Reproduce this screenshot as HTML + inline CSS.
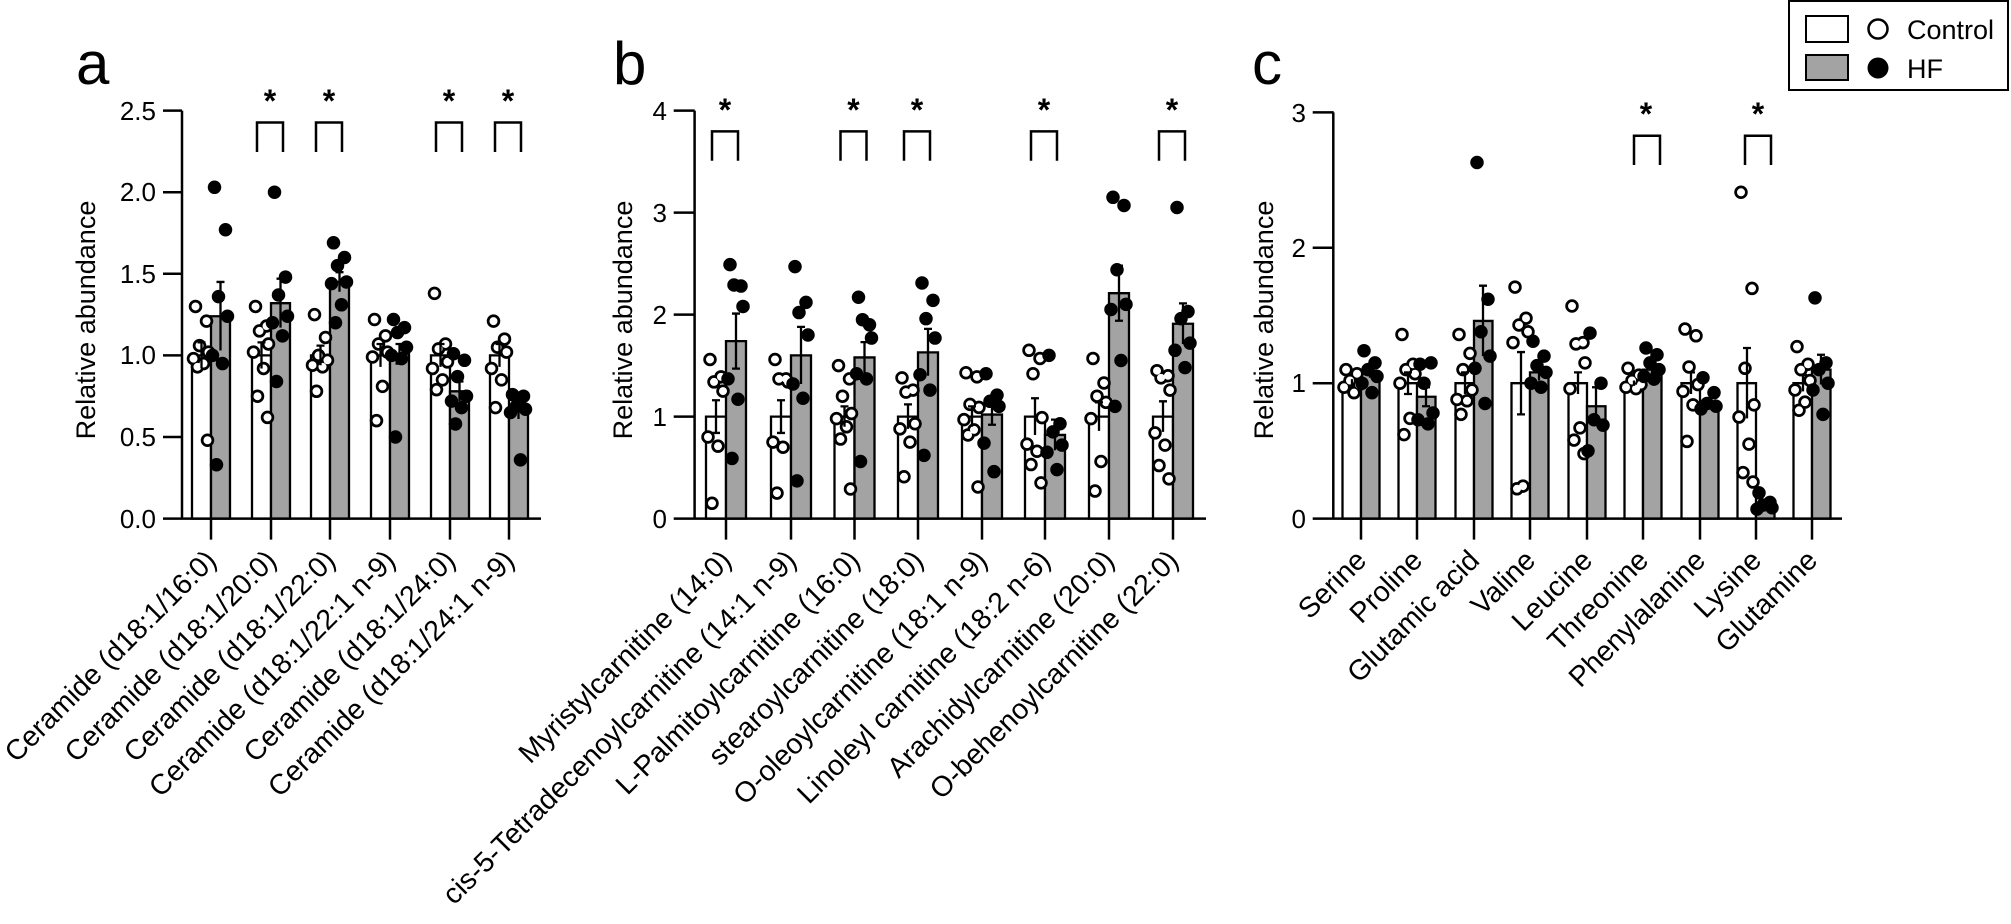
<!DOCTYPE html>
<html><head><meta charset="utf-8"><style>
html,body{margin:0;padding:0;background:#fff;}
svg{display:block;font-family:"Liberation Sans",Arial,sans-serif;}
.d{vector-effect:non-scaling-stroke;stroke-linecap:round;fill:none;}
.b{vector-effect:non-scaling-stroke;stroke:#000;stroke-width:2.3;}
.e{vector-effect:non-scaling-stroke;stroke:#000;stroke-width:2.3;fill:none;}
.tl{font-size:28.5px;}
.yt{font-size:26px;text-anchor:end;}
</style></head><body>
<svg width="2011" height="924" viewBox="0 0 2011 924">
<defs>
<path id="ac" class="d" d="M195.5 1.30h0M206.5 1.21h0M199.5 1.06h0M208.5 1.02h0M193.5 0.98h0M203.5 0.95h0M197.5 0.93h0M207.5 0.48h0
M255.5 1.30h0M266.5 1.18h0M259.5 1.15h0M268.5 1.07h0M253.5 1.02h0M263.5 0.92h0M257.5 0.75h0M267.5 0.62h0
M314.5 1.25h0M325.5 1.11h0M318.5 1.00h0M327.5 0.97h0M312.5 0.94h0M322.5 0.93h0M316.5 0.78h0
M374.5 1.22h0M385.5 1.12h0M378.5 1.07h0M387.5 1.02h0M372.5 0.99h0M382.5 0.81h0M376.5 0.60h0
M434.5 1.38h0M445.5 1.07h0M438.5 1.04h0M447.5 0.96h0M432.5 0.92h0M442.5 0.85h0M436.5 0.79h0
M493.5 1.21h0M504.5 1.10h0M497.5 1.05h0M506.5 1.02h0M491.5 0.92h0M501.5 0.85h0M495.5 0.68h0"/>
<path id="bc" class="d" d="M710 1.56h0M721 1.39h0M714 1.34h0M723 1.25h0M708 0.80h0M718 0.71h0M712 0.15h0
M775 1.56h0M786 1.37h0M779 1.37h0M788 1.34h0M773 0.75h0M783 0.70h0M777 0.25h0
M838.5 1.50h0M849.5 1.37h0M842.5 1.20h0M851.5 1.03h0M836.5 0.98h0M846.5 0.90h0M840.5 0.78h0M850.5 0.29h0
M902 1.38h0M913 1.26h0M906 1.24h0M915 0.93h0M900 0.88h0M910 0.75h0M904 0.41h0
M966 1.43h0M977 1.39h0M970 1.12h0M979 1.09h0M964 0.97h0M974 0.87h0M968 0.82h0M978 0.31h0
M1029 1.65h0M1040 1.57h0M1033 1.42h0M1042 0.99h0M1027 0.73h0M1037 0.66h0M1031 0.53h0M1041 0.35h0
M1093 1.57h0M1104 1.33h0M1097 1.20h0M1106 1.14h0M1091 0.98h0M1101 0.56h0M1095 0.27h0
M1157 1.45h0M1168 1.40h0M1161 1.38h0M1170 1.26h0M1155 0.84h0M1165 0.72h0M1159 0.52h0M1169 0.39h0"/>
<path id="cc" class="d" d="M1346 1.10h0M1357 1.07h0M1350 1.02h0M1359 0.99h0M1344 0.97h0M1354 0.93h0
M1402 1.36h0M1413 1.14h0M1406 1.10h0M1415 1.07h0M1400 1.00h0M1410 0.74h0M1404 0.62h0
M1459 1.36h0M1470 1.22h0M1463 1.10h0M1472 0.95h0M1457 0.88h0M1467 0.87h0M1461 0.77h0
M1515 1.71h0M1526 1.48h0M1519 1.43h0M1528 1.38h0M1513 1.30h0M1523 0.24h0M1517 0.22h0
M1572 1.57h0M1583 1.30h0M1576 1.29h0M1585 1.15h0M1570 0.96h0M1580 0.67h0M1574 0.58h0M1584 0.48h0
M1628 1.11h0M1639 1.06h0M1632 1.02h0M1641 0.99h0M1626 0.97h0M1636 0.96h0
M1685 1.40h0M1696 1.35h0M1689 1.12h0M1698 0.99h0M1683 0.94h0M1693 0.84h0M1687 0.57h0
M1741 2.41h0M1752 1.70h0M1745 1.11h0M1754 0.84h0M1739 0.75h0M1749 0.55h0M1743 0.34h0M1753 0.27h0
M1797 1.27h0M1808 1.14h0M1801 1.10h0M1810 1.02h0M1795 0.95h0M1805 0.86h0M1799 0.80h0"/>
</defs>

<text x="76" y="84" font-size="60">a</text>
<text x="613" y="84" font-size="60">b</text>
<text x="1252" y="84" font-size="60">c</text>

<text transform="translate(95,320) rotate(-90)" font-size="27" text-anchor="middle">Relative abundance</text>
<text transform="translate(632,320) rotate(-90)" font-size="27" text-anchor="middle">Relative abundance</text>
<text transform="translate(1273,320) rotate(-90)" font-size="27" text-anchor="middle">Relative abundance</text>

<!-- Panel a -->
<g transform="translate(0,518.6) scale(1,-163.2)">
<g fill="#fff">
<rect class="b" x="192" y="0" width="19" height="1.0"/><rect class="b" x="252" y="0" width="19" height="1.0"/><rect class="b" x="311" y="0" width="19" height="1.0"/><rect class="b" x="371" y="0" width="19" height="1.0"/><rect class="b" x="431" y="0" width="19" height="1.0"/><rect class="b" x="490" y="0" width="19" height="1.0"/>
</g>
<g fill="#a3a3a3">
<rect class="b" x="211" y="0" width="19" height="1.24"/><rect class="b" x="271" y="0" width="19" height="1.32"/><rect class="b" x="330" y="0" width="19" height="1.45"/><rect class="b" x="390" y="0" width="19" height="1.01"/><rect class="b" x="450" y="0" width="19" height="0.78"/><rect class="b" x="509" y="0" width="19" height="0.66"/>
</g>
<use href="#ac" stroke="#000" stroke-width="13.5"/>
<use href="#ac" stroke="#fff" stroke-width="8"/>
<path class="d" stroke="#000" stroke-width="13.5" d="M214.5 2.03h0M225.5 1.77h0M218.5 1.36h0M227.5 1.24h0M212.5 1.00h0M222.5 0.95h0M216.5 0.33h0
M274.5 2.0h0M285.5 1.48h0M278.5 1.37h0M287.5 1.24h0M272.5 1.20h0M282.5 1.12h0M276.5 0.84h0
M333.5 1.69h0M344.5 1.60h0M337.5 1.55h0M346.5 1.45h0M331.5 1.44h0M341.5 1.31h0M335.5 1.20h0
M393.5 1.22h0M404.5 1.17h0M397.5 1.14h0M406.5 1.05h0M391.5 1.00h0M401.5 0.98h0M395.5 0.50h0
M453.5 1.01h0M464.5 0.97h0M457.5 0.87h0M466.5 0.75h0M451.5 0.72h0M461.5 0.68h0M455.5 0.58h0
M512.5 0.76h0M523.5 0.75h0M516.5 0.69h0M525.5 0.67h0M510.5 0.65h0M520.5 0.36h0"/>
<path class="e" d="M201.5 0.92V1.08M197.5 1.08h8M220.5 1.03V1.45M216.5 1.45h8
M261.5 0.92V1.08M257.5 1.08h8M280.5 1.17V1.47M276.5 1.47h8
M320.5 0.94V1.06M316.5 1.06h8M339.5 1.39V1.51M335.5 1.51h8
M380.5 0.93V1.07M376.5 1.07h8M399.5 0.95V1.07M395.5 1.07h8M395.5 0.95h8
M440.5 0.93V1.07M436.5 1.07h8M459.5 0.72V0.84M455.5 0.84h8
M499.5 0.93V1.07M495.5 1.07h8M518.5 0.61V0.71M514.5 0.71h8"/>
</g>
<path d="M182 110.6V518.6M163 518.6H541M163 110.6h19M163 192.2h19M163 273.8h19M163 355.4h19M163 437h19
M211 518.6v21M271 518.6v21M330 518.6v21M390 518.6v21M450 518.6v21M509 518.6v21" stroke="#000" stroke-width="2.5" fill="none"/>
<g class="yt"><text x="156" y="528">0.0</text><text x="156" y="446">0.5</text><text x="156" y="364">1.0</text><text x="156" y="283">1.5</text><text x="156" y="201">2.0</text><text x="156" y="120">2.5</text></g>
<path d="M257 152V122.5H283V152M316 152V122.5H342V152M436 152V122.5H462V152M495 152V122.5H521V152" stroke="#000" stroke-width="2.5" fill="none"/>
<g font-size="32" font-weight="bold" text-anchor="middle"><text x="270" y="112">*</text><text x="329" y="112">*</text><text x="449" y="112">*</text><text x="508" y="112">*</text></g>
<g class="tl" text-anchor="end">
<text transform="translate(218,562) rotate(-45)">Ceramide (d18:1/16:0)</text>
<text transform="translate(278,562) rotate(-45)">Ceramide (d18:1/20:0)</text>
<text transform="translate(337,562) rotate(-45)">Ceramide (d18:1/22:0)</text>
<text transform="translate(397,562) rotate(-45)">Ceramide (d18:1/22:1 n-9)</text>
<text transform="translate(457,562) rotate(-45)">Ceramide (d18:1/24:0)</text>
<text transform="translate(516,562) rotate(-45)">Ceramide (d18:1/24:1 n-9)</text>
</g>

<!-- Panel b -->
<g transform="translate(0,518.6) scale(1,-102)">
<g fill="#fff">
<rect class="b" x="706" y="0" width="20" height="1"/><rect class="b" x="771" y="0" width="20" height="1"/><rect class="b" x="834.5" y="0" width="20" height="1"/><rect class="b" x="898" y="0" width="20" height="1"/><rect class="b" x="962" y="0" width="20" height="1"/><rect class="b" x="1025" y="0" width="20" height="1"/><rect class="b" x="1089" y="0" width="20" height="1"/><rect class="b" x="1153" y="0" width="20" height="1"/>
</g>
<g fill="#a3a3a3">
<rect class="b" x="726" y="0" width="20" height="1.74"/><rect class="b" x="791" y="0" width="20" height="1.6"/><rect class="b" x="854.5" y="0" width="20" height="1.58"/><rect class="b" x="918" y="0" width="20" height="1.63"/><rect class="b" x="982" y="0" width="20" height="1.02"/><rect class="b" x="1045" y="0" width="20" height="0.82"/><rect class="b" x="1109" y="0" width="20" height="2.21"/><rect class="b" x="1173" y="0" width="20" height="1.91"/>
</g>
<use href="#bc" stroke="#000" stroke-width="13.5"/>
<use href="#bc" stroke="#fff" stroke-width="8"/>
<path class="d" stroke="#000" stroke-width="13.5" d="M730 2.49h0M741 2.28h0M734 2.29h0M743 2.08h0M728 1.37h0M738 1.17h0M732 0.59h0
M795 2.47h0M806 2.12h0M799 2.02h0M808 1.8h0M793 1.32h0M803 1.18h0M797 0.37h0
M858.5 2.17h0M869.5 1.90h0M862.5 1.95h0M871.5 1.77h0M856.5 1.42h0M866.5 1.37h0M860.5 0.56h0
M922 2.31h0M933 2.14h0M926 1.96h0M935 1.77h0M920 1.41h0M930 1.26h0M924 0.62h0
M986 1.42h0M997 1.21h0M990 1.15h0M999 1.10h0M984 0.74h0M994 0.46h0
M1049 1.60h0M1060 0.93h0M1053 0.85h0M1062 0.72h0M1047 0.65h0M1057 0.48h0
M1113 3.15h0M1124 3.07h0M1117 2.44h0M1126 2.10h0M1111 2.05h0M1121 1.55h0M1115 1.10h0
M1177 3.05h0M1188 2.03h0M1181 1.96h0M1190 1.72h0M1175 1.65h0M1185 1.48h0"/>
<path class="e" d="M716 0.84V1.16M712 1.16h8M712 0.84h8M736 1.47V2.01M732 2.01h8M732 1.47h8
M781 0.84V1.16M777 1.16h8M777 0.84h8M801 1.32V1.88M797 1.88h8
M844.5 0.9V1.1M840.5 1.1h8M864.5 1.43V1.73M860.5 1.73h8
M908 0.88V1.12M904 1.12h8M928 1.4V1.86M924 1.86h8
M972 0.9V1.1M968 1.1h8M992 0.92V1.12M988 1.12h8M988 0.92h8
M1035 0.82V1.18M1031 1.18h8M1055 0.67V0.97M1051 0.97h8
M1099 0.86V1.14M1095 1.14h8M1119 1.94V2.48M1115 2.48h8M1115 1.94h8
M1163 0.85V1.15M1159 1.15h8M1183 1.71V2.11M1179 2.11h8"/>
</g>
<path d="M694.6 110.6V518.6M673.7 518.6H1206M673.7 110.6h21M673.7 212.6h21M673.7 314.6h21M673.7 416.6h21
M726 518.6v21M791 518.6v21M854.5 518.6v21M918 518.6v21M982 518.6v21M1045 518.6v21M1109 518.6v21M1173 518.6v21" stroke="#000" stroke-width="2.5" fill="none"/>
<g class="yt"><text x="667" y="528">0</text><text x="667" y="426">1</text><text x="667" y="324">2</text><text x="667" y="222">3</text><text x="667" y="120">4</text></g>
<path d="M712 160.7V131.4H738V160.7M840.5 160.7V131.4H866.5V160.7M904 160.7V131.4H930V160.7M1031 160.7V131.4H1057V160.7M1159 160.7V131.4H1185V160.7" stroke="#000" stroke-width="2.5" fill="none"/>
<g font-size="32" font-weight="bold" text-anchor="middle"><text x="725" y="121">*</text><text x="853.5" y="121">*</text><text x="917" y="121">*</text><text x="1044" y="121">*</text><text x="1172" y="121">*</text></g>
<g class="tl" text-anchor="end">
<text transform="translate(733,562) rotate(-45)">Myristylcarnitine (14:0)</text>
<text transform="translate(798,562) rotate(-45)">cis-5-Tetradecenoylcarnitine (14:1 n-9)</text>
<text transform="translate(861.5,562) rotate(-45)">L-Palmitoylcarnitine (16:0)</text>
<text transform="translate(925,562) rotate(-45)">stearoylcarnitine (18:0)</text>
<text transform="translate(989,562) rotate(-45)">O-oleoylcarnitine (18:1 n-9)</text>
<text transform="translate(1052,562) rotate(-45)">Linoleyl carnitine (18:2 n-6)</text>
<text transform="translate(1116,562) rotate(-45)">Arachidylcarnitine (20:0)</text>
<text transform="translate(1180,562) rotate(-45)">O-behenoylcarnitine (22:0)</text>
</g>

<!-- Panel c -->
<g transform="translate(0,518.6) scale(1,-135.4)">
<g fill="#fff">
<rect class="b" x="1342.5" y="0" width="18.5" height="1"/><rect class="b" x="1398.5" y="0" width="18.5" height="1"/><rect class="b" x="1455.5" y="0" width="18.5" height="1"/><rect class="b" x="1511.5" y="0" width="18.5" height="1"/><rect class="b" x="1568.5" y="0" width="18.5" height="1"/><rect class="b" x="1624.5" y="0" width="18.5" height="1"/><rect class="b" x="1681.5" y="0" width="18.5" height="1"/><rect class="b" x="1737.5" y="0" width="18.5" height="1"/><rect class="b" x="1793.5" y="0" width="18.5" height="1"/>
</g>
<g fill="#a3a3a3">
<rect class="b" x="1361" y="0" width="18.5" height="1.08"/><rect class="b" x="1417" y="0" width="18.5" height="0.90"/><rect class="b" x="1474" y="0" width="18.5" height="1.46"/><rect class="b" x="1530" y="0" width="18.5" height="1.08"/><rect class="b" x="1587" y="0" width="18.5" height="0.83"/><rect class="b" x="1643" y="0" width="18.5" height="1.10"/><rect class="b" x="1700" y="0" width="18.5" height="0.86"/><rect class="b" x="1756" y="0" width="18.5" height="0.10"/><rect class="b" x="1812" y="0" width="18.5" height="1.10"/>
</g>
<use href="#cc" stroke="#000" stroke-width="13.5"/>
<use href="#cc" stroke="#fff" stroke-width="8"/>
<path class="d" stroke="#000" stroke-width="13.5" d="M1364 1.24h0M1375 1.15h0M1368 1.10h0M1377 1.05h0M1362 1.00h0M1372 0.93h0
M1420 1.14h0M1431 1.15h0M1424 1.00h0M1433 0.78h0M1418 0.73h0M1428 0.70h0
M1477 2.63h0M1488 1.62h0M1481 1.38h0M1490 1.20h0M1475 1.11h0M1485 0.85h0
M1533 1.31h0M1544 1.20h0M1537 1.13h0M1546 1.08h0M1531 1.0h0M1541 0.97h0
M1590 1.37h0M1601 1.00h0M1594 0.73h0M1603 0.69h0M1588 0.50h0
M1646 1.26h0M1657 1.21h0M1650 1.15h0M1659 1.10h0M1644 1.05h0M1654 1.03h0
M1703 1.04h0M1714 0.93h0M1707 0.85h0M1716 0.83h0M1701 0.81h0
M1759 0.19h0M1770 0.12h0M1763 0.10h0M1772 0.08h0M1757 0.07h0
M1815 1.63h0M1826 1.15h0M1819 1.10h0M1828 1.00h0M1813 0.95h0M1823 0.77h0"/>
<path class="e" d="M1352 0.97V1.03M1370 1.04V1.12M1366 1.12h8
M1408 0.92V1.08M1404 1.08h8M1404 0.92h8M1426 0.83V0.97M1422 0.97h8M1422 0.83h8
M1465 0.92V1.08M1461 1.08h8M1483 1.2V1.72M1479 1.72h8
M1521 0.77V1.23M1517 1.23h8M1517 0.77h8M1539 1.02V1.14M1535 1.14h8
M1578 0.92V1.08M1574 1.08h8M1596 0.69V0.97M1592 0.97h8
M1634 0.98V1.02M1652 1.06V1.14M1648 1.14h8
M1691 0.92V1.08M1687 1.08h8M1709 0.83V0.89M1705 0.89h8
M1747 0.74V1.26M1743 1.26h8M1765 0.08V0.12
M1803 0.94V1.06M1799 1.06h8M1821 0.99V1.21M1817 1.21h8"/>
</g>
<path d="M1333.3 112.4V518.6M1312.7 518.6H1842M1312.7 112.4h21M1312.7 247.8h21M1312.7 383.2h21
M1361 518.6v21M1417 518.6v21M1474 518.6v21M1530 518.6v21M1587 518.6v21M1643 518.6v21M1700 518.6v21M1756 518.6v21M1812 518.6v21" stroke="#000" stroke-width="2.5" fill="none"/>
<g class="yt"><text x="1306" y="528">0</text><text x="1306" y="392">1</text><text x="1306" y="257">2</text><text x="1306" y="122">3</text></g>
<path d="M1634 165V135.7H1660V165M1745 165V135.7H1771V165" stroke="#000" stroke-width="2.5" fill="none"/>
<g font-size="32" font-weight="bold" text-anchor="middle"><text x="1646" y="125">*</text><text x="1758" y="125">*</text></g>
<g class="tl" text-anchor="end">
<text transform="translate(1368,562) rotate(-45)">Serine</text>
<text transform="translate(1424,562) rotate(-45)">Proline</text>
<text transform="translate(1481,562) rotate(-45)">Glutamic acid</text>
<text transform="translate(1537,562) rotate(-45)">Valine</text>
<text transform="translate(1594,562) rotate(-45)">Leucine</text>
<text transform="translate(1650,562) rotate(-45)">Threonine</text>
<text transform="translate(1707,562) rotate(-45)">Phenylalanine</text>
<text transform="translate(1763,562) rotate(-45)">Lysine</text>
<text transform="translate(1819,562) rotate(-45)">Glutamine</text>
</g>

<!-- Legend -->
<rect x="1789" y="1" width="219" height="89" fill="#fff" stroke="#000" stroke-width="2"/>
<rect x="1806" y="16" width="42" height="26" fill="#fff" stroke="#000" stroke-width="2"/>
<rect x="1806" y="55" width="42" height="25" fill="#a3a3a3" stroke="#000" stroke-width="2"/>
<circle cx="1878" cy="29" r="9.5" fill="#fff" stroke="#000" stroke-width="2.5"/>
<circle cx="1878" cy="68" r="10.5" fill="#000"/>
<text x="1907" y="39" font-size="27">Control</text>
<text x="1907" y="78" font-size="27">HF</text>
</svg>
</body></html>
